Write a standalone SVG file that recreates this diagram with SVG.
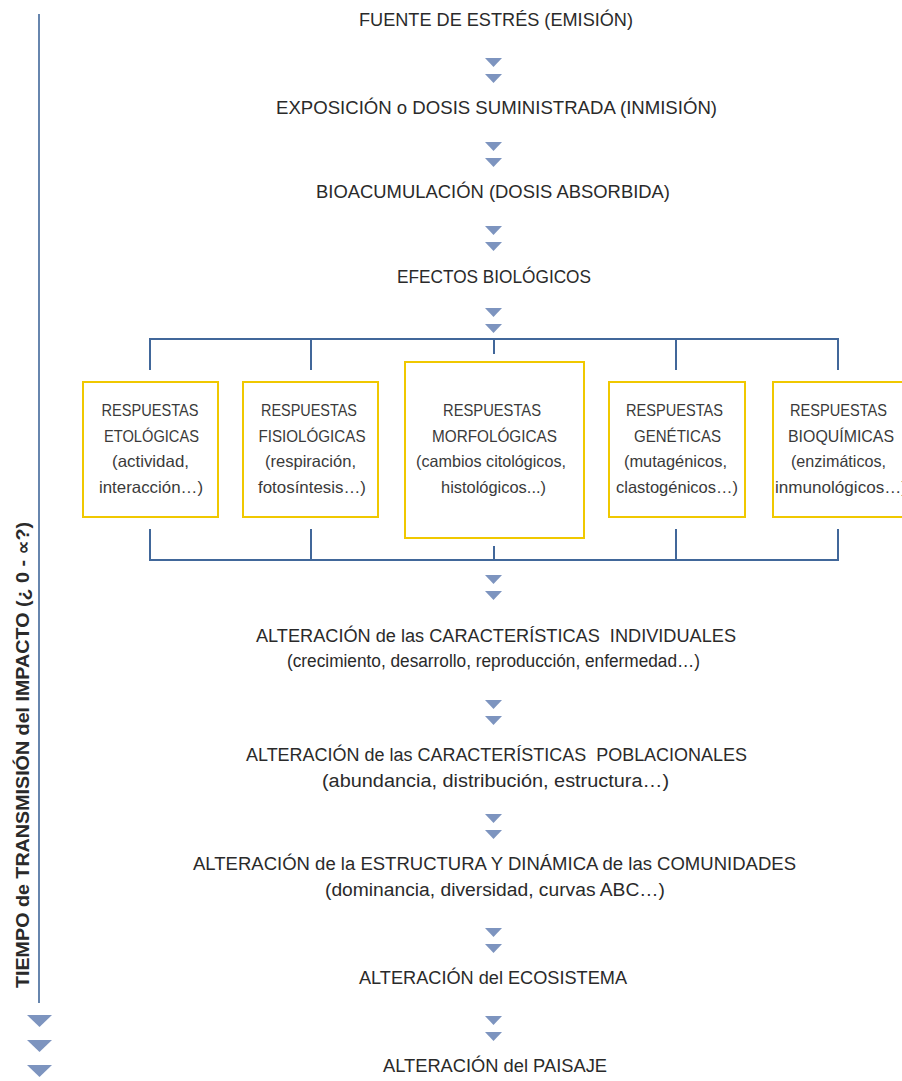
<svg xmlns="http://www.w3.org/2000/svg" width="902" height="1081" viewBox="0 0 902 1081">
<style>
.h{font-family:"Liberation Sans",Arial,sans-serif;font-size:18px;fill:#2a2a2a;text-anchor:middle;white-space:pre}
.b{font-family:"Liberation Sans",Arial,sans-serif;font-size:16.5px;fill:#3a3a3a;text-anchor:middle}
.v{font-family:"Liberation Sans","DejaVu Sans",Arial,sans-serif;font-size:17.5px;font-weight:bold;fill:#2a2a2a;text-anchor:middle}
.box{fill:#fff;stroke:#f0c800;stroke-width:2}
.ln{fill:none;stroke:#41679a;stroke-width:2}
.tri{fill:#7d94bf}
</style>
<defs>
<g id="pair">
<polygon class="tri" points="-8.5,0 8.5,0 0,9"/>
<polygon class="tri" points="-8.5,16 8.5,16 0,25"/>
</g>
</defs>
<rect width="902" height="1081" fill="#fff"/>

<g id="timeline">
<line x1="39" y1="14" x2="39" y2="1003" stroke="#41679a" stroke-width="1.6"/>
<polygon class="tri" points="27,1015 52,1015 39.5,1027"/>
<polygon class="tri" points="27,1040 52,1040 39.5,1052"/>
<polygon class="tri" points="27,1065 52,1065 39.5,1077"/>
<text class="v" transform="translate(29,755) rotate(-90)" textLength="466" lengthAdjust="spacingAndGlyphs">TIEMPO de TRANSMISIÓN del IMPACTO (¿ 0 - ∝?)</text>
</g>

<g id="connectors">
<use href="#pair" x="493.5" y="58"/>
<use href="#pair" x="493.5" y="142"/>
<use href="#pair" x="493.5" y="226"/>
<use href="#pair" x="493.5" y="308"/>
<use href="#pair" x="493.5" y="575"/>
<use href="#pair" x="493.5" y="700"/>
<use href="#pair" x="493.5" y="814"/>
<use href="#pair" x="493.5" y="928"/>
<use href="#pair" x="493.5" y="1016"/>
<path class="ln" d="M150,370 V339 H838 V370 M311,339 V370 M494,339 V354 M676,339 V370"/>
<path class="ln" d="M150,529 V560 H838 V529 M311,529 V560 M494,546 V560 M676,529 V560"/>
</g>

<g id="n-fuente"><text class="h" x="496" y="26" textLength="274" lengthAdjust="spacingAndGlyphs">FUENTE DE ESTRÉS (EMISIÓN)</text></g>
<g id="n-exposicion"><text class="h" x="496.5" y="114" textLength="441" lengthAdjust="spacingAndGlyphs">EXPOSICIÓN o DOSIS SUMINISTRADA (INMISIÓN)</text></g>
<g id="n-bioacumulacion"><text class="h" x="493" y="198" textLength="354" lengthAdjust="spacingAndGlyphs">BIOACUMULACIÓN (DOSIS ABSORBIDA)</text></g>
<g id="n-efectos"><text class="h" x="494" y="283" textLength="194" lengthAdjust="spacingAndGlyphs">EFECTOS BIOLÓGICOS</text></g>

<g id="n-etologicas">
<rect class="box" x="83" y="382" width="135" height="135"/>
<text class="b" x="150" y="416" textLength="97" lengthAdjust="spacingAndGlyphs">RESPUESTAS</text>
<text class="b" x="151.5" y="442" textLength="95" lengthAdjust="spacingAndGlyphs">ETOLÓGICAS</text>
<text class="b" x="150.5" y="467" textLength="77" lengthAdjust="spacingAndGlyphs">(actividad,</text>
<text class="b" x="151" y="493" textLength="104" lengthAdjust="spacingAndGlyphs">interacción…)</text>
</g>
<g id="n-fisiologicas">
<rect class="box" x="243" y="382" width="135" height="135"/>
<text class="b" x="309" y="416" textLength="96" lengthAdjust="spacingAndGlyphs">RESPUESTAS</text>
<text class="b" x="312" y="442" textLength="107" lengthAdjust="spacingAndGlyphs">FISIOLÓGICAS</text>
<text class="b" x="310.5" y="467" textLength="91" lengthAdjust="spacingAndGlyphs">(respiración,</text>
<text class="b" x="312" y="493" textLength="108" lengthAdjust="spacingAndGlyphs">fotosíntesis…)</text>
</g>
<g id="n-morfologicas">
<rect class="box" x="405" y="362" width="179" height="176"/>
<text class="b" x="492" y="416" textLength="98" lengthAdjust="spacingAndGlyphs">RESPUESTAS</text>
<text class="b" x="494.5" y="442" textLength="125" lengthAdjust="spacingAndGlyphs">MORFOLÓGICAS</text>
<text class="b" x="491" y="467" textLength="150" lengthAdjust="spacingAndGlyphs">(cambios citológicos,</text>
<text class="b" x="493.5" y="493" textLength="105" lengthAdjust="spacingAndGlyphs">histológicos...)</text>
</g>
<g id="n-geneticas">
<rect class="box" x="609" y="382" width="136" height="135"/>
<text class="b" x="674.5" y="416" textLength="97" lengthAdjust="spacingAndGlyphs">RESPUESTAS</text>
<text class="b" x="677.5" y="442" textLength="87" lengthAdjust="spacingAndGlyphs">GENÉTICAS</text>
<text class="b" x="675.5" y="467" textLength="103" lengthAdjust="spacingAndGlyphs">(mutagénicos,</text>
<text class="b" x="677" y="493" textLength="122" lengthAdjust="spacingAndGlyphs">clastogénicos…)</text>
</g>
<g id="n-bioquimicas">
<rect class="box" x="773" y="382" width="135" height="135"/>
<text class="b" x="838.5" y="416" textLength="97" lengthAdjust="spacingAndGlyphs">RESPUESTAS</text>
<text class="b" x="841" y="442" textLength="106" lengthAdjust="spacingAndGlyphs">BIOQUÍMICAS</text>
<text class="b" x="838.5" y="467" textLength="95" lengthAdjust="spacingAndGlyphs">(enzimáticos,</text>
<text class="b" x="841" y="493" textLength="132" lengthAdjust="spacingAndGlyphs">inmunológicos…)</text>
</g>

<g id="n-individuales">
<text class="h" x="496" y="642" textLength="480" lengthAdjust="spacingAndGlyphs">ALTERACIÓN de las CARACTERÍSTICAS  INDIVIDUALES</text>
<text class="h" x="493.5" y="667" textLength="413" lengthAdjust="spacingAndGlyphs">(crecimiento, desarrollo, reproducción, enfermedad…)</text>
</g>
<g id="n-poblacionales">
<text class="h" x="496.5" y="761" textLength="501" lengthAdjust="spacingAndGlyphs">ALTERACIÓN de las CARACTERÍSTICAS  POBLACIONALES</text>
<text class="h" x="495.5" y="787" textLength="347" lengthAdjust="spacingAndGlyphs">(abundancia, distribución, estructura…)</text>
</g>
<g id="n-comunidades">
<text class="h" x="494.5" y="870" textLength="603" lengthAdjust="spacingAndGlyphs">ALTERACIÓN de la ESTRUCTURA Y DINÁMICA de las COMUNIDADES</text>
<text class="h" x="495" y="896" textLength="340" lengthAdjust="spacingAndGlyphs">(dominancia, diversidad, curvas ABC…)</text>
</g>
<g id="n-ecosistema"><text class="h" x="493" y="984" textLength="268" lengthAdjust="spacingAndGlyphs">ALTERACIÓN del ECOSISTEMA</text></g>
<g id="n-paisaje"><text class="h" x="495" y="1072" textLength="224" lengthAdjust="spacingAndGlyphs">ALTERACIÓN del PAISAJE</text></g>
</svg>
